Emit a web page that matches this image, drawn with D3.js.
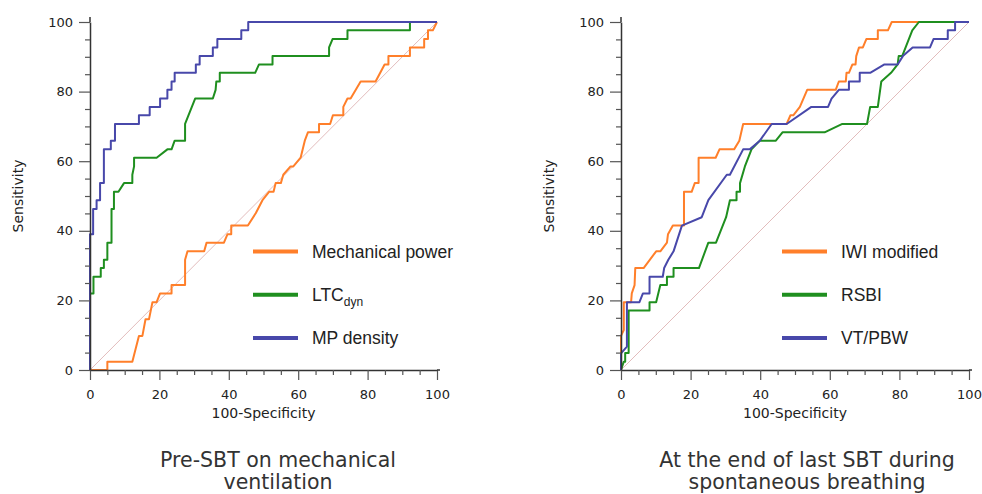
<!DOCTYPE html>
<html>
<meta charset="utf-8">
<style type="text/css">
  body { margin: 0; background: #fff; }
  .tick text { font: 13px "DejaVu Sans", Verdana, sans-serif; fill: #222; }
  .axis-title { font: 14px "DejaVu Sans", Verdana, sans-serif; fill: #222; }
  .legend text { font: 17.5px "Liberation Sans", Arial, sans-serif; fill: #222; }
  .title { font: 20.5px "DejaVu Sans", Verdana, sans-serif; fill: #333; }
</style>
<body>
<div id="chart"></div>
<script src="https://d3js.org/d3.v7.min.js"></script>
<script>
  const width = 982,
    height = 494;

  // ROC curves, [100-Specificity, Sensitivity]
  const mechanicalPower = [[0,0],[5,0],[5,2.4],[12.2,2.4],[14.1,9.8],[15.1,9.8],[16,14.6],[17,14.6],[18,19.5],[19.2,19.5],[20.2,22],[23.5,22],[23.5,24.4],[27.4,24.4],[27.4,31.7],[28.1,34.1],[32.9,34.1],[33.6,36.6],[38.6,36.6],[39.6,39],[40.7,39],[40.7,41.5],[45.5,41.5],[47.8,45.1],[49.7,48.8],[51.6,51.2],[52.9,51.2],[53.5,53.7],[55,53.7],[55.7,56.1],[57.8,58.5],[58.6,58.5],[60.7,61],[61.9,65.9],[62.8,68.3],[66,68.3],[66,70.7],[69.2,70.7],[70,73.2],[73,73.2],[73,75.6],[74.2,78],[75.1,78],[78,82.9],[82.3,82.9],[84.9,87.8],[86,87.8],[86,90.2],[92.2,90.2],[92.2,92.7],[96.3,92.7],[96.3,95.1],[97.4,95.1],[97.4,97.6],[98.8,97.6],[100,100]];
  const ltcDyn = [[0,0],[0,22],[1,22],[1,26.8],[3.1,26.8],[3.1,29.3],[4,29.3],[4,31.7],[5,31.7],[5,36.6],[6.2,36.6],[6.2,46.3],[6.9,46.3],[6.9,51.2],[8.2,51.2],[9.8,53.7],[12.2,53.7],[12.2,56.1],[12.7,58.5],[12.7,61],[19.2,61],[22.3,63.4],[23.5,63.4],[24.4,65.9],[27.4,65.9],[27.4,70.7],[30.3,78],[35.4,78],[36.2,80.5],[36.4,82.9],[37.4,82.9],[37.4,85.4],[47.6,85.4],[48.7,87.8],[52.6,87.8],[52.6,90.2],[68.9,90.2],[68.9,92.7],[69.9,95.1],[74.2,95.1],[74.2,97.6],[92.2,97.6],[92.2,100],[100,100]];
  const mpDensity = [[0,0],[0,39],[0.9,39],[0.9,46.3],[1.9,46.3],[1.9,48.8],[2.9,48.8],[2.9,53.7],[4,53.7],[4,63.4],[6,63.4],[6,65.9],[7.2,65.9],[7.2,70.7],[14.1,70.7],[14.1,73.2],[17.2,73.2],[17.2,75.6],[20.2,75.6],[20.2,78],[22.3,78],[22.3,80.5],[23.5,80.5],[23.5,82.9],[24.4,82.9],[24.4,85.4],[30.5,85.4],[30.5,87.8],[31.6,87.8],[31.6,90.2],[35.4,90.2],[35.4,92.7],[36.7,92.7],[36.7,95.1],[43.6,95.1],[43.6,97.6],[45.6,97.6],[45.6,100],[100,100]];

  const iwiModified = [[0,0],[0,9.8],[0.8,11.5],[0.8,19.5],[2.9,19.5],[3.1,22],[3.9,24.4],[4.1,29.3],[6.5,29.3],[10.1,34.1],[11.3,34.1],[13.2,36.6],[13.5,39],[14.9,41.5],[18.1,41.5],[18.1,51.2],[20.3,51.2],[21.2,53.7],[22.3,53.7],[22.3,61],[27.2,61],[28.3,63.4],[32.5,63.4],[34,65.9],[35.1,70.7],[47.6,70.7],[48.7,73.2],[49.5,73.2],[51.4,75.6],[53.5,80.5],[61.7,80.5],[62.6,82.9],[64.6,82.9],[64.8,85.4],[65.5,85.4],[66.5,87.8],[67.4,87.8],[67.6,90.2],[68.4,92.7],[69.5,92.7],[70.5,95.1],[73.8,95.1],[73.8,97.6],[76.7,97.6],[77.8,100],[100,100]];
  const rsbi = [[0,0],[0.8,2.4],[1.2,2.4],[1.2,4.9],[2.2,4.9],[2.2,17.1],[8.2,17.1],[8.2,19.5],[10.1,19.5],[11.3,24.4],[13.2,24.4],[13.2,26.8],[15.1,26.8],[15.1,29.3],[22.4,29.3],[25.1,36.6],[27.3,36.6],[30.2,43.9],[31.3,48.8],[33.2,48.8],[33.2,51.2],[34.2,51.2],[34.2,53.7],[35.6,58.5],[37.5,63.4],[39.9,65.9],[44.5,65.9],[46.4,68.3],[58.5,68.3],[63.6,70.7],[70.7,70.7],[71.6,75.6],[73.8,75.6],[74.8,82.9],[77.6,85.4],[79.5,87.8],[79.8,90.2],[80.8,90.2],[83.7,97.6],[85.6,100],[100,100]];
  const vtPbw = [[0,0],[0,4.8],[1.7,6.7],[1.7,19.5],[5.3,19.5],[6.3,22],[8.2,22],[8.2,26.8],[12,26.8],[12.4,29.3],[13.6,31.7],[15.1,34.1],[17.5,41.5],[23.2,43.9],[25.1,48.8],[30.4,56.1],[31.3,56.1],[35.1,63.4],[37,63.4],[39.9,65.9],[43.3,70.7],[47.6,70.7],[54.7,75.6],[59.5,75.6],[60.5,78],[62.6,80.5],[65.5,80.5],[65.5,82.9],[68.6,82.9],[68.6,85.4],[71.6,85.4],[75.7,87.8],[79.5,87.8],[81,90.2],[83.8,92.7],[88.8,92.7],[89.8,95.1],[93.9,95.1],[93.9,97.6],[96,97.6],[96,100],[100,100]];

  const majorTicks = [0, 20, 40, 60, 80, 100];
  const minorTicks = d3.range(0, 101, 5).filter(d => d % 20 !== 0);

  const leftNames = ["Mechanical power", "LTC", "MP density"];
  const rightNames = ["IWI modified", "RSBI", "VT/PBW"];
  const leftTitle = ["Pre-SBT on mechanical", "ventilation"];
  const rightTitle = ["At the end of last SBT during", "spontaneous breathing"];

  const colors = ["#ff7f2a", "#1f8f1f", "#4848aa"];

  const svg = d3.select("#chart").append("svg")
    .attr("width", width)
    .attr("height", height);

  function panel(left, right, series, names, title, titleX, legendX) {
    const x = d3.scaleLinear().domain([0, 100]).range([left, right]);
    const y = d3.scaleLinear().domain([0, 100]).range([370, 22]);
    const g = svg.append("g");

    // diagonal reference
    g.append("line")
      .attr("x1", x(0)).attr("y1", y(0))
      .attr("x2", x(100)).attr("y2", y(100))
      .style("stroke", "#e2bcbc")
      .style("stroke-width", 1);

    const line = d3.line().x(d => x(d[0])).y(d => y(d[1]));
    series.forEach((s, i) => {
      g.append("path")
        .datum(s)
        .attr("d", line)
        .style("fill", "none")
        .style("stroke", colors[i])
        .style("stroke-width", 2)
        .style("stroke-linejoin", "round");
    });

    // axes
    g.append("g").attr("transform", "translate(0,370)")
      .call(d3.axisBottom(x).tickValues(majorTicks).tickSize(10).tickSizeOuter(0).tickPadding(10));
    g.append("g").attr("transform", "translate(0,370)")
      .call(d3.axisBottom(x).tickValues(minorTicks).tickSize(5).tickFormat(""))
      .select(".domain").remove();
    g.append("g").attr("transform", "translate(" + left + ",0)")
      .call(d3.axisLeft(y).tickValues(majorTicks).tickSize(11).tickSizeOuter(0).tickPadding(6));
    g.append("g").attr("transform", "translate(" + left + ",0)")
      .call(d3.axisLeft(y).tickValues(minorTicks).tickSize(5).tickFormat(""))
      .select(".domain").remove();
    g.selectAll(".domain").style("stroke", "#333").style("stroke-width", 1.5);
    g.selectAll(".tick line").style("stroke", "#555").style("stroke-width", 1.2);

    // small overhang of axis lines
    g.append("line").attr("x1", left).attr("x2", left).attr("y1", 17).attr("y2", 22)
      .style("stroke", "#333").style("stroke-width", 1.5);
    g.append("line").attr("x1", right).attr("x2", right + 3).attr("y1", 370).attr("y2", 370)
      .style("stroke", "#333").style("stroke-width", 1.5);

    g.append("text").attr("class", "axis-title")
      .attr("x", (left + right) / 2).attr("y", 418)
      .attr("text-anchor", "middle")
      .text("100-Specificity");
    g.append("text").attr("class", "axis-title")
      .attr("transform", "translate(" + (left - 67) + ",196) rotate(-90)")
      .attr("text-anchor", "middle")
      .text("Sensitivity");

    // legend
    const lg = g.append("g").attr("class", "legend");
    names.forEach((n, i) => {
      const ly = 251.5 + i * 43.3;
      lg.append("line")
        .attr("x1", legendX).attr("x2", legendX + 45)
        .attr("y1", ly).attr("y2", ly)
        .style("stroke", colors[i])
        .style("stroke-width", 4);
      const t = lg.append("text")
        .attr("x", legendX + 59).attr("y", ly + 6)
        .text(n);
      if (n === "LTC") {
        t.append("tspan").attr("dy", 5).style("font-size", "12px").text("dyn");
      }
    });

    title.forEach((t, i) => {
      g.append("text").attr("class", "title")
        .attr("x", titleX).attr("y", 467 + i * 22)
        .attr("text-anchor", "middle")
        .text(t);
    });
  }

  panel(90, 437, [mechanicalPower, ltcDyn, mpDensity], leftNames, leftTitle, 278, 253);
  panel(621, 969, [iwiModified, rsbi, vtPbw], rightNames, rightTitle, 807, 782);
</script>
</body>
</html>
